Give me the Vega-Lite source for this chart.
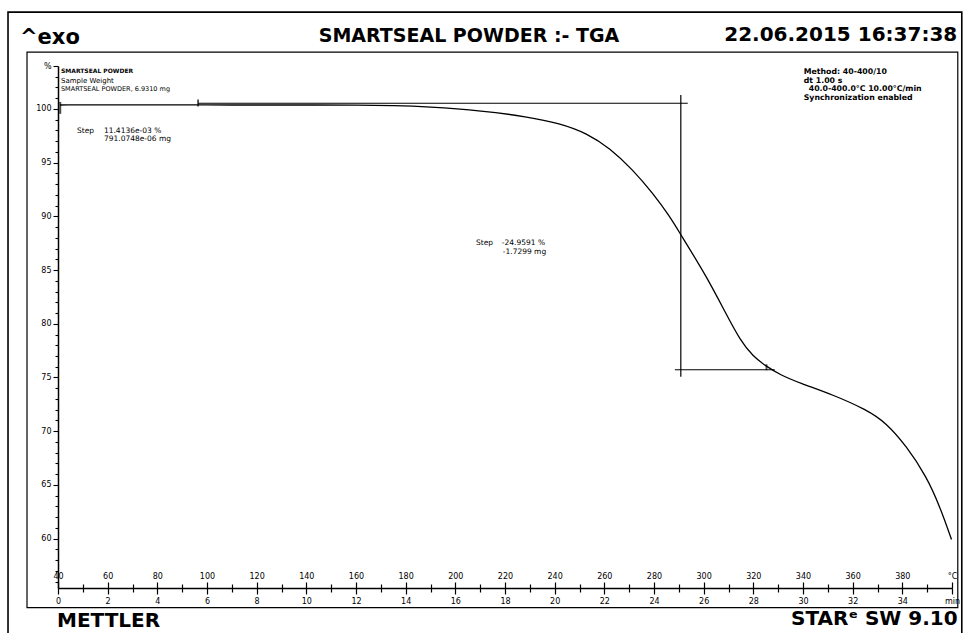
{
  "$schema": "https://vega.github.io/schema/vega-lite/v6.json",
  "width": 894,
  "height": 522,
  "autosize": {"type": "none"},
  "padding": {"left": 58, "top": 66, "right": 13, "bottom": 45},
  "background": "white",
  "config": {
    "view": {"stroke": null},
    "axis": {"domainColor": "black", "tickColor": "black", "labelColor": "black", "labelFont": "DejaVu Sans", "labelFontSize": 8, "grid": false, "title": null, "labelOverlap": false, "labelBound": false, "labelFlush": false},
    "text": {"font": "DejaVu Sans", "color": "black"}
  },
  "resolve": {"axis": {"x": "independent", "y": "independent"}},
  "layer": [
    {
      "data": {"values": [{}]},
      "mark": {"type": "rect", "fill": null, "stroke": "black", "strokeWidth": 1.6},
      "encoding": {
        "x": {"datum": 19.87, "type": "quantitative", "scale": {"domain": [40, 400], "nice": false, "zero": false}, "axis": null},
        "x2": {"datum": 403.94},
        "y": {"datum": 109.02, "type": "quantitative", "scale": {"domain": [55.4, 104], "nice": false, "zero": false}, "axis": null},
        "y2": {"datum": 51.0}
      }
    },
    {
      "data": {"values": [{}]},
      "mark": {"type": "rect", "fill": null, "stroke": "black", "strokeWidth": 1.2},
      "encoding": {
        "x": {"datum": 27.52, "type": "quantitative", "scale": {"domain": [40, 400], "nice": false, "zero": false}, "axis": null},
        "x2": {"datum": 402.33},
        "y": {"datum": 105.3, "type": "quantitative", "scale": {"domain": [55.4, 104], "nice": false, "zero": false}, "axis": null},
        "y2": {"datum": 53.58}
      }
    },
    {
      "data": {"values": [
        {"temperature": 40.8, "weight": 100.37},
        {"temperature": 60, "weight": 100.38},
        {"temperature": 80, "weight": 100.38},
        {"temperature": 100, "weight": 100.37},
        {"temperature": 120, "weight": 100.37},
        {"temperature": 140, "weight": 100.37},
        {"temperature": 161.6, "weight": 100.36},
        {"temperature": 175, "weight": 100.31},
        {"temperature": 188.6, "weight": 100.21},
        {"temperature": 211.1, "weight": 99.84},
        {"temperature": 228.8, "weight": 99.28},
        {"temperature": 242.1, "weight": 98.67},
        {"temperature": 253.0, "weight": 97.74},
        {"temperature": 262.2, "weight": 96.35},
        {"temperature": 271.5, "weight": 94.33},
        {"temperature": 279.5, "weight": 92.16},
        {"temperature": 286.4, "weight": 89.98},
        {"temperature": 290.4, "weight": 88.44},
        {"temperature": 301.2, "weight": 84.40},
        {"temperature": 309.2, "weight": 80.84},
        {"temperature": 314.6, "weight": 78.51},
        {"temperature": 319.8, "weight": 76.96},
        {"temperature": 325.3, "weight": 76.03},
        {"temperature": 330.7, "weight": 75.26},
        {"temperature": 338.7, "weight": 74.48},
        {"temperature": 352.0, "weight": 73.40},
        {"temperature": 365.6, "weight": 72.00},
        {"temperature": 373.6, "weight": 70.76},
        {"temperature": 381.7, "weight": 68.59},
        {"temperature": 389.7, "weight": 65.80},
        {"temperature": 395.1, "weight": 63.00},
        {"temperature": 399.8, "weight": 59.91}
      ]},
      "mark": {"type": "line", "color": "black", "strokeWidth": 1.3, "interpolate": "basis"},
      "encoding": {
        "x": {"field": "temperature", "type": "quantitative", "scale": {"domain": [40, 400], "nice": false, "zero": false},
          "axis": {"orient": "bottom", "values": [40,50,60,70,80,90,100,110,120,130,140,150,160,170,180,190,200,210,220,230,240,250,260,270,280,290,300,310,320,330,340,350,360,370,380,390,400],
            "labelExpr": "datum.value == 400 ? 'min' : ((datum.value - 40) % 20 == 0 ? format((datum.value - 40) / 10, 'd') : '')",
            "tickSize": {"condition": {"test": "(datum.value - 40) % 20 == 0", "value": 6}, "value": 4},
            "tickWidth": 1.2, "domainWidth": 1.5, "labelPadding": 3}},
        "y": {"field": "weight", "type": "quantitative", "scale": {"domain": [55.4, 104], "nice": false, "zero": false},
          "axis": {"orient": "left", "values": [56,57,58,59,60,61,62,63,64,65,66,67,68,69,70,71,72,73,74,75,76,77,78,79,80,81,82,83,84,85,86,87,88,89,90,91,92,93,94,95,96,97,98,99,100,101,102,103,104],
            "labelExpr": "datum.value == 104 ? '%' : (datum.value % 5 == 0 ? datum.value : '')",
            "tickSize": {"condition": {"test": "datum.value % 5 == 0 || datum.value == 104", "value": 5}, "value": 3},
            "tickWidth": 1.1, "domainWidth": 1.5, "labelPadding": 2}}
      }
    },
    {
      "data": {"values": [{}]},
      "mark": {"type": "rule", "color": "black", "strokeWidth": 1.2},
      "encoding": {
        "x": {"datum": 96.4, "type": "quantitative", "scale": {"domain": [40, 400], "nice": false, "zero": false},
          "axis": {"orient": "top", "offset": -522, "domain": false, "values": [40,50,60,70,80,90,100,110,120,130,140,150,160,170,180,190,200,210,220,230,240,250,260,270,280,290,300,310,320,330,340,350,360,370,380,390,400],
            "labelExpr": "datum.value == 400 ? '°C' : ((datum.value - 40) % 20 == 0 ? datum.value : '')",
            "tickSize": {"condition": {"test": "(datum.value - 40) % 20 == 0", "value": 6}, "value": 4},
            "tickWidth": 1.2, "labelPadding": 2}},
        "x2": {"datum": 293.6},
        "y": {"datum": 100.53, "type": "quantitative", "scale": {"domain": [55.4, 104], "nice": false, "zero": false}, "axis": null}
      }
    },
    {
      "data": {"values": [{}]},
      "mark": {"type": "rule", "color": "black", "strokeWidth": 1.2},
      "encoding": {
        "x": {"datum": 290.8, "type": "quantitative", "scale": {"domain": [40, 400], "nice": false, "zero": false}, "axis": null},
        "y": {"datum": 101.3, "type": "quantitative", "scale": {"domain": [55.4, 104], "nice": false, "zero": false}, "axis": null},
        "y2": {"datum": 75.07}
      }
    },
    {
      "data": {"values": [{}]},
      "mark": {"type": "rule", "color": "black", "strokeWidth": 1.2},
      "encoding": {
        "x": {"datum": 288.4, "type": "quantitative", "scale": {"domain": [40, 400], "nice": false, "zero": false}, "axis": null},
        "x2": {"datum": 328.6},
        "y": {"datum": 75.72, "type": "quantitative", "scale": {"domain": [55.4, 104], "nice": false, "zero": false}, "axis": null}
      }
    },
    {
      "data": {"values": [{}]},
      "mark": {"type": "tick", "orient": "vertical", "color": "black", "size": 12, "thickness": 2},
      "encoding": {
        "x": {"datum": 40.9, "type": "quantitative", "scale": {"domain": [40, 400], "nice": false, "zero": false}, "axis": null},
        "y": {"datum": 100.1, "type": "quantitative", "scale": {"domain": [55.4, 104], "nice": false, "zero": false}, "axis": null}
      }
    },
    {
      "data": {"values": [{}]},
      "mark": {"type": "tick", "orient": "vertical", "color": "black", "size": 7, "thickness": 1.8},
      "encoding": {
        "x": {"datum": 96.4, "type": "quantitative", "scale": {"domain": [40, 400], "nice": false, "zero": false}, "axis": null},
        "y": {"datum": 100.55, "type": "quantitative", "scale": {"domain": [55.4, 104], "nice": false, "zero": false}, "axis": null}
      }
    },
    {
      "data": {"values": [{}]},
      "mark": {"type": "tick", "orient": "vertical", "color": "black", "size": 6, "thickness": 1.8},
      "encoding": {
        "x": {"datum": 325.3, "type": "quantitative", "scale": {"domain": [40, 400], "nice": false, "zero": false}, "axis": null},
        "y": {"datum": 75.95, "type": "quantitative", "scale": {"domain": [55.4, 104], "nice": false, "zero": false}, "axis": null}
      }
    },
    {
      "data": {"values": [{}]},
      "mark": {"type": "text", "text": "^exo", "align": "left", "baseline": "alphabetic", "fontSize": 21, "fontWeight": "bold"},
      "encoding": {
        "x": {"datum": 24.7, "type": "quantitative", "scale": {"domain": [40, 400], "nice": false, "zero": false}, "axis": null},
        "y": {"datum": 106.05, "type": "quantitative", "scale": {"domain": [55.4, 104], "nice": false, "zero": false}, "axis": null}
      }
    },
    {
      "data": {"values": [{}]},
      "mark": {"type": "text", "text": "SMARTSEAL POWDER :- TGA", "align": "center", "baseline": "alphabetic", "fontSize": 19, "fontWeight": "bold"},
      "encoding": {
        "x": {"datum": 205.5, "type": "quantitative", "scale": {"domain": [40, 400], "nice": false, "zero": false}, "axis": null},
        "y": {"datum": 106.2, "type": "quantitative", "scale": {"domain": [55.4, 104], "nice": false, "zero": false}, "axis": null}
      }
    },
    {
      "data": {"values": [{}]},
      "mark": {"type": "text", "text": "22.06.2015 16:37:38", "align": "right", "baseline": "alphabetic", "fontSize": 20, "fontWeight": "bold"},
      "encoding": {
        "x": {"datum": 402.1, "type": "quantitative", "scale": {"domain": [40, 400], "nice": false, "zero": false}, "axis": null},
        "y": {"datum": 106.3, "type": "quantitative", "scale": {"domain": [55.4, 104], "nice": false, "zero": false}, "axis": null}
      }
    },
    {
      "data": {"values": [{}]},
      "mark": {"type": "text", "text": "METTLER", "align": "left", "baseline": "alphabetic", "fontSize": 20, "fontWeight": "bold"},
      "encoding": {
        "x": {"datum": 39.6, "type": "quantitative", "scale": {"domain": [40, 400], "nice": false, "zero": false}, "axis": null},
        "y": {"datum": 51.81, "type": "quantitative", "scale": {"domain": [55.4, 104], "nice": false, "zero": false}, "axis": null}
      }
    },
    {
      "data": {"values": [{}]},
      "mark": {"type": "text", "text": "STARᵉ SW 9.10", "align": "right", "baseline": "alphabetic", "fontSize": 20, "fontWeight": "bold"},
      "encoding": {
        "x": {"datum": 402.3, "type": "quantitative", "scale": {"domain": [40, 400], "nice": false, "zero": false}, "axis": null},
        "y": {"datum": 52.0, "type": "quantitative", "scale": {"domain": [55.4, 104], "nice": false, "zero": false}, "axis": null}
      }
    },
    {
      "data": {"values": [{}]},
      "mark": {"type": "text", "text": "SMARTSEAL POWDER", "align": "left", "baseline": "alphabetic", "fontSize": 6, "fontWeight": "bold"},
      "encoding": {
        "x": {"datum": 41.2, "type": "quantitative", "scale": {"domain": [40, 400], "nice": false, "zero": false}, "axis": null},
        "y": {"datum": 103.35, "type": "quantitative", "scale": {"domain": [55.4, 104], "nice": false, "zero": false}, "axis": null}
      }
    },
    {
      "data": {"values": [{}]},
      "mark": {"type": "text", "text": "Sample Weight", "align": "left", "baseline": "alphabetic", "fontSize": 7},
      "encoding": {
        "x": {"datum": 41.2, "type": "quantitative", "scale": {"domain": [40, 400], "nice": false, "zero": false}, "axis": null},
        "y": {"datum": 102.45, "type": "quantitative", "scale": {"domain": [55.4, 104], "nice": false, "zero": false}, "axis": null}
      }
    },
    {
      "data": {"values": [{}]},
      "mark": {"type": "text", "text": "SMARTSEAL POWDER, 6.9310 mg", "align": "left", "baseline": "alphabetic", "fontSize": 6.5},
      "encoding": {
        "x": {"datum": 41.2, "type": "quantitative", "scale": {"domain": [40, 400], "nice": false, "zero": false}, "axis": null},
        "y": {"datum": 101.67, "type": "quantitative", "scale": {"domain": [55.4, 104], "nice": false, "zero": false}, "axis": null}
      }
    },
    {
      "data": {"values": [{}]},
      "mark": {"type": "text", "text": "Method: 40-400/10", "align": "left", "baseline": "alphabetic", "fontSize": 7.8, "fontWeight": "bold"},
      "encoding": {
        "x": {"datum": 340.3, "type": "quantitative", "scale": {"domain": [40, 400], "nice": false, "zero": false}, "axis": null},
        "y": {"datum": 103.26, "type": "quantitative", "scale": {"domain": [55.4, 104], "nice": false, "zero": false}, "axis": null}
      }
    },
    {
      "data": {"values": [{}]},
      "mark": {"type": "text", "text": "dt 1.00 s", "align": "left", "baseline": "alphabetic", "fontSize": 7.8, "fontWeight": "bold"},
      "encoding": {
        "x": {"datum": 340.3, "type": "quantitative", "scale": {"domain": [40, 400], "nice": false, "zero": false}, "axis": null},
        "y": {"datum": 102.42, "type": "quantitative", "scale": {"domain": [55.4, 104], "nice": false, "zero": false}, "axis": null}
      }
    },
    {
      "data": {"values": [{}]},
      "mark": {"type": "text", "text": "40.0-400.0°C 10.00°C/min", "align": "left", "baseline": "alphabetic", "fontSize": 7.8, "fontWeight": "bold"},
      "encoding": {
        "x": {"datum": 342.3, "type": "quantitative", "scale": {"domain": [40, 400], "nice": false, "zero": false}, "axis": null},
        "y": {"datum": 101.63, "type": "quantitative", "scale": {"domain": [55.4, 104], "nice": false, "zero": false}, "axis": null}
      }
    },
    {
      "data": {"values": [{}]},
      "mark": {"type": "text", "text": "Synchronization enabled", "align": "left", "baseline": "alphabetic", "fontSize": 7.8, "fontWeight": "bold"},
      "encoding": {
        "x": {"datum": 340.3, "type": "quantitative", "scale": {"domain": [40, 400], "nice": false, "zero": false}, "axis": null},
        "y": {"datum": 100.84, "type": "quantitative", "scale": {"domain": [55.4, 104], "nice": false, "zero": false}, "axis": null}
      }
    },
    {
      "data": {"values": [{}]},
      "mark": {"type": "text", "text": "Step", "align": "left", "baseline": "alphabetic", "fontSize": 7.5},
      "encoding": {
        "x": {"datum": 47.65, "type": "quantitative", "scale": {"domain": [40, 400], "nice": false, "zero": false}, "axis": null},
        "y": {"datum": 97.77, "type": "quantitative", "scale": {"domain": [55.4, 104], "nice": false, "zero": false}, "axis": null}
      }
    },
    {
      "data": {"values": [{}]},
      "mark": {"type": "text", "text": "11.4136e-03 %", "align": "left", "baseline": "alphabetic", "fontSize": 7.5},
      "encoding": {
        "x": {"datum": 58.5, "type": "quantitative", "scale": {"domain": [40, 400], "nice": false, "zero": false}, "axis": null},
        "y": {"datum": 97.77, "type": "quantitative", "scale": {"domain": [55.4, 104], "nice": false, "zero": false}, "axis": null}
      }
    },
    {
      "data": {"values": [{}]},
      "mark": {"type": "text", "text": "791.0748e-06 mg", "align": "left", "baseline": "alphabetic", "fontSize": 7.5},
      "encoding": {
        "x": {"datum": 58.5, "type": "quantitative", "scale": {"domain": [40, 400], "nice": false, "zero": false}, "axis": null},
        "y": {"datum": 96.98, "type": "quantitative", "scale": {"domain": [55.4, 104], "nice": false, "zero": false}, "axis": null}
      }
    },
    {
      "data": {"values": [{}]},
      "mark": {"type": "text", "text": "Step", "align": "left", "baseline": "alphabetic", "fontSize": 7.5},
      "encoding": {
        "x": {"datum": 208.3, "type": "quantitative", "scale": {"domain": [40, 400], "nice": false, "zero": false}, "axis": null},
        "y": {"datum": 87.35, "type": "quantitative", "scale": {"domain": [55.4, 104], "nice": false, "zero": false}, "axis": null}
      }
    },
    {
      "data": {"values": [{}]},
      "mark": {"type": "text", "text": "-24.9591 %", "align": "left", "baseline": "alphabetic", "fontSize": 7.5},
      "encoding": {
        "x": {"datum": 218.7, "type": "quantitative", "scale": {"domain": [40, 400], "nice": false, "zero": false}, "axis": null},
        "y": {"datum": 87.35, "type": "quantitative", "scale": {"domain": [55.4, 104], "nice": false, "zero": false}, "axis": null}
      }
    },
    {
      "data": {"values": [{}]},
      "mark": {"type": "text", "text": "-1.7299 mg", "align": "left", "baseline": "alphabetic", "fontSize": 7.5},
      "encoding": {
        "x": {"datum": 219.1, "type": "quantitative", "scale": {"domain": [40, 400], "nice": false, "zero": false}, "axis": null},
        "y": {"datum": 86.51, "type": "quantitative", "scale": {"domain": [55.4, 104], "nice": false, "zero": false}, "axis": null}
      }
    }
  ]
}
